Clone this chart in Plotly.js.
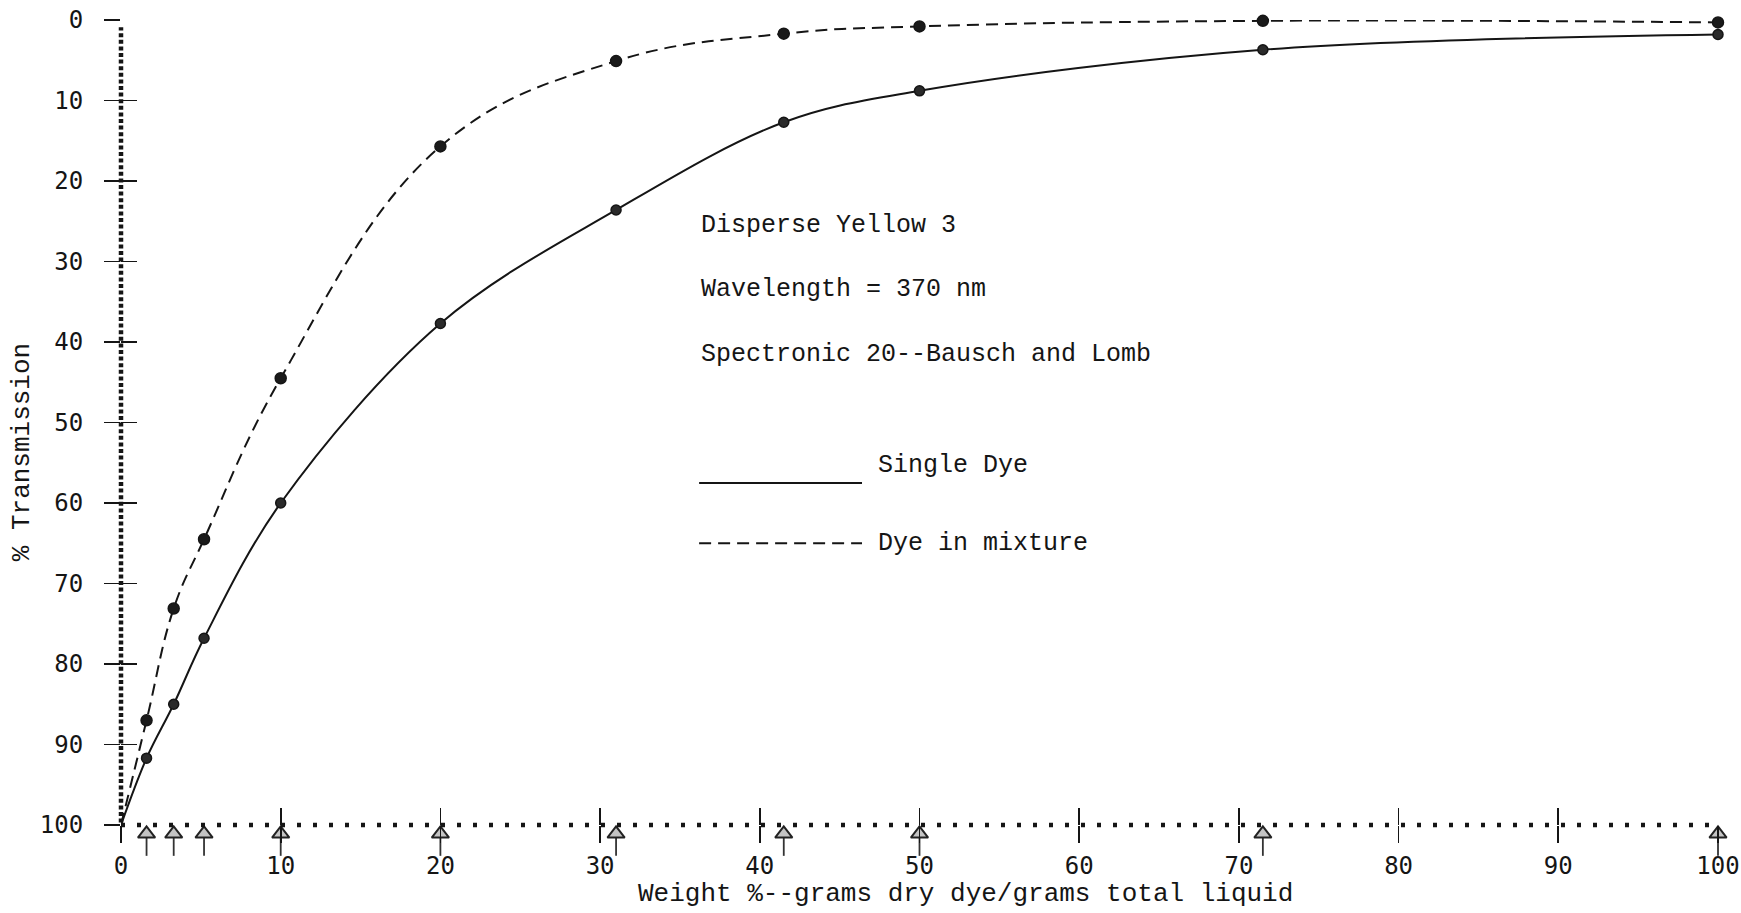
<!DOCTYPE html>
<html>
<head>
<meta charset="utf-8">
<script src="https://cdn.plot.ly/plotly-3.0.1.min.js"></script>
<style>
  html, body { margin: 0; padding: 0; background: #ffffff; }
  #chart { width: 1741px; height: 913px; }
  /* keep the sample-position marks that sit just under the axis visible */
  .scatterlayer .trace .points path.point { display: inline !important; }
</style>
</head>
<body>
<div id="chart"></div>
<script>
// ---- data ----
const weightPct = [1.6, 3.3, 5.2, 10, 20, 31, 41.5, 50, 71.5, 100];
const singleDye = [91.7, 85, 76.8, 60, 37.7, 23.6, 12.7, 8.8, 3.7, 1.8];
const dyeInMixture = [87, 73.1, 64.5, 44.5, 15.7, 5.1, 1.7, 0.8, 0.1, 0.3];
const originX = 0;
const originY = 100;
const xTicks = [0, 10, 20, 30, 40, 50, 60, 70, 80, 90, 100];
const yTicks = [0, 10, 20, 30, 40, 50, 60, 70, 80, 90, 100];
const infoLines = ["Disperse Yellow 3", "Wavelength = 370 nm", "Spectronic 20--Bausch and Lomb"];
const seriesNames = ["Single Dye", "Dye in mixture"];
const xTitle = "Weight %--grams dry dye/grams total liquid";
const yTitle = "% Transmission";

const ink = "#151515";
const typeFont = "Liberation Mono, Courier New, monospace";
const digitFont = "DejaVu Sans Mono, monospace";

const markBase = yTicks[yTicks.length - 1];

const traces = [
  { x: [originX].concat(weightPct), y: [originY].concat(singleDye), mode: "lines",
    line: { color: ink, width: 2, shape: "spline", smoothing: 1.0 },
    cliponaxis: false, showlegend: false, hoverinfo: "skip", name: seriesNames[0] },
  { x: [originX].concat(weightPct), y: [originY].concat(dyeInMixture), mode: "lines",
    line: { color: ink, width: 2, dash: "12px,7px", shape: "spline", smoothing: 1.15 },
    cliponaxis: false, showlegend: false, hoverinfo: "skip", name: seriesNames[1] },
  { x: weightPct, y: singleDye, mode: "markers", cliponaxis: false, showlegend: false,
    marker: { color: "#2a2a2a", size: 10, line: { color: ink, width: 1.5 } }, name: seriesNames[0] },
  { x: weightPct, y: dyeInMixture, mode: "markers", cliponaxis: false, showlegend: false,
    marker: { color: "#1a1a1a", size: 11, line: { color: ink, width: 1.5 } }, name: seriesNames[1] },
  // sample position marks (triangle with arrow) under the x axis
  { x: weightPct, y: weightPct.map(() => markBase + 2.7), mode: "markers", cliponaxis: false, showlegend: false, hoverinfo: "skip",
    marker: { symbol: "line-ns-open", size: 13, color: "#333", line: { color: "#333", width: 1.8 } } },
  { x: weightPct, y: weightPct.map(() => markBase + 1.1), mode: "markers", cliponaxis: false, showlegend: false, hoverinfo: "skip",
    marker: { symbol: "triangle-up", size: 15, color: "#c4c4c4", line: { color: "#222", width: 2 } } },
  { x: [null], y: [null], xaxis: "x2", yaxis: "y2", mode: "markers", showlegend: false, hoverinfo: "skip" }
];

const axisCommon = { showgrid: false, zeroline: false, showline: false };

const layout = {
  width: 1741, height: 913,
  margin: { l: 121, r: 23, t: 20, b: 88, autoexpand: false },
  paper_bgcolor: "#ffffff", plot_bgcolor: "#ffffff",
  showlegend: false,
  xaxis: Object.assign({}, axisCommon, {
    range: [0, 100], tickmode: "array", tickvals: xTicks, ticktext: xTicks.map(String),
    ticks: "outside", ticklen: 17, tickwidth: 1.8, tickcolor: ink,
    ticklabelstandoff: 2,
    tickfont: { family: digitFont, size: 24, color: ink },
    automargin: false
  }),
  yaxis: Object.assign({}, axisCommon, {
    range: [100, 0], tickmode: "array", tickvals: yTicks, ticktext: yTicks.map(String),
    ticks: "outside", ticklen: 16, tickwidth: 1.8, tickcolor: ink,
    ticklabelstandoff: 16,
    tickfont: { family: digitFont, size: 24, color: ink },
    automargin: false
  }),
  xaxis2: Object.assign({}, axisCommon, {
    overlaying: "x", anchor: "y", side: "bottom", range: [0, 100],
    tickmode: "array", tickvals: xTicks, showticklabels: false,
    ticks: "inside", ticklen: 17, tickwidth: 1.8, tickcolor: ink
  }),
  yaxis2: Object.assign({}, axisCommon, {
    overlaying: "y", anchor: "x", side: "left", range: [100, 0],
    tickmode: "array", tickvals: yTicks, showticklabels: false,
    ticks: "inside", ticklen: 16, tickwidth: 1.8, tickcolor: ink
  }),
  shapes: [
    // dotted axis lines (paper-referenced so they are not clipped at the plot edge)
    { type: "line", xref: "paper", yref: "paper", x0: 0, x1: 1, y0: 0, y1: 0,
      line: { color: ink, width: 4.5, dash: "4px,12px" }, layer: "above" },
    { type: "line", xref: "paper", yref: "paper", x0: 0, x1: 0, y0: 0.003, y1: 0.991,
      line: { color: ink, width: 4.5, dash: "4px,2.6px" }, layer: "above" },
    // legend sample lines
    { type: "line", xref: "paper", yref: "paper", x0: 0.362, x1: 0.464, y0: 0.425, y1: 0.425,
      line: { color: ink, width: 2 } },
    { type: "line", xref: "paper", yref: "paper", x0: 0.362, x1: 0.464, y0: 0.350, y1: 0.350,
      line: { color: ink, width: 2, dash: "12px,7px" } }
  ],
  annotations: [
    { text: infoLines[0], xref: "paper", yref: "paper", x: 0.362, y: 0.745, xanchor: "left", yanchor: "middle", showarrow: false,
      font: { family: typeFont, size: 25, color: ink } },
    { text: infoLines[1], xref: "paper", yref: "paper", x: 0.362, y: 0.665, xanchor: "left", yanchor: "middle", showarrow: false,
      font: { family: typeFont, size: 25, color: ink } },
    { text: infoLines[2], xref: "paper", yref: "paper", x: 0.362, y: 0.584, xanchor: "left", yanchor: "middle", showarrow: false,
      font: { family: typeFont, size: 25, color: ink } },
    { text: seriesNames[0], xref: "paper", yref: "paper", x: 0.473, y: 0.447, xanchor: "left", yanchor: "middle", showarrow: false,
      font: { family: typeFont, size: 25, color: ink } },
    { text: seriesNames[1], xref: "paper", yref: "paper", x: 0.473, y: 0.350, xanchor: "left", yanchor: "middle", showarrow: false,
      font: { family: typeFont, size: 25, color: ink } },
    // axis titles
    { text: xTitle, xref: "paper", yref: "paper", x: 0.529, y: -0.0857, xanchor: "center", yanchor: "middle", showarrow: false,
      font: { family: typeFont, size: 26, color: ink } },
    { text: yTitle, xref: "paper", yref: "paper", x: -0.062, y: 0.463, xanchor: "center", yanchor: "middle", showarrow: false,
      textangle: -90, font: { family: typeFont, size: 26, color: ink } }
  ]
};

Plotly.newPlot("chart", traces, layout, { staticPlot: true, displayModeBar: false });
</script>
</body>
</html>
